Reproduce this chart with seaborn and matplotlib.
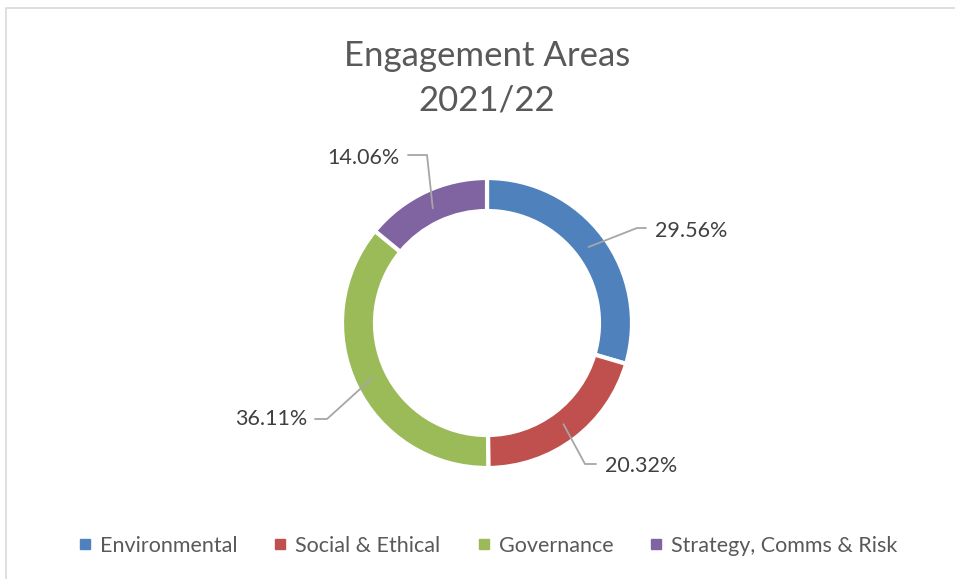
import matplotlib.pyplot as plt
import numpy as np
import seaborn as sns
from matplotlib.lines import Line2D
from matplotlib.patches import Rectangle

sns.set_theme(style="white")
plt.rcParams["font.family"] = ["Lato", "DejaVu Sans"]

# Data
areas = ["Environmental", "Social & Ethical", "Governance", "Strategy, Comms & Risk"]
shares = [29.56, 20.32, 36.11, 14.06]
colors = ["#4F81BD", "#C0504D", "#9BBB59", "#8064A2"]

# label text positions (pixels from top-left) and elbow points
label_pos = [(655, 231), (605, 466), (307, 419), (400, 158)]
label_ha = ["left", "left", "right", "right"]
elbows = [(637, 228), (585, 464), (327, 419), (427, 155)]

W, H = 955, 579
fig = plt.figure(figsize=(W / 100, H / 100), dpi=100)
ax = fig.add_axes([0, 0, 1, 1])

cx, cy, r, ring = 487, H - 323, 145, 33
wedges, _ = ax.pie(
    shares,
    radius=r,
    center=(cx, cy),
    startangle=90,
    counterclock=False,
    colors=colors,
    wedgeprops=dict(width=ring, edgecolor="white", linewidth=3),
)
ax.set_xlim(0, W)
ax.set_ylim(0, H)
ax.set_aspect("equal")
ax.axis("off")

# chart border (only top/left visible in original)
ax.add_patch(Rectangle((6, -20), W + 20, H - 8 + 20, fill=False,
                       edgecolor="#D9D9D9", linewidth=1.2, clip_on=False))

# labels with leader lines
for w, val, (tx, ty), ha, (ex, ey) in zip(wedges, shares, label_pos, label_ha, elbows):
    ang = np.deg2rad((w.theta1 + w.theta2) / 2)
    rr = r - ring * 0.55
    sx, sy = cx + rr * np.cos(ang), cy + rr * np.sin(ang)
    end_x = tx - 9 if ha == "left" else tx + 8
    ax.plot([sx, ex, end_x], [sy, H - ey, H - ey], color="#A6A6A6", lw=1.3)
    ax.text(tx, H - ty, f"{val:.2f}%", ha=ha, va="center", fontsize=15.5,
            color="#404040")

# title
ax.text(cx, H - 56, "Engagement Areas", ha="center", va="center",
        fontsize=25, color="#595959")
ax.text(cx, H - 101, "2021/22", ha="center", va="center",
        fontsize=25, color="#595959")

# legend
handles = [Line2D([], [], marker="s", linestyle="", markersize=7,
                  markerfacecolor=c, markeredgecolor=c) for c in colors]
ax.legend(handles, areas, loc="center", bbox_to_anchor=(cx / W, 1 - 546 / H),
          ncol=4, frameon=False, fontsize=15.5, handlelength=0.8,
          handletextpad=0.3, columnspacing=1.6, labelcolor="#595959")

fig.savefig("out.png", dpi=100)
